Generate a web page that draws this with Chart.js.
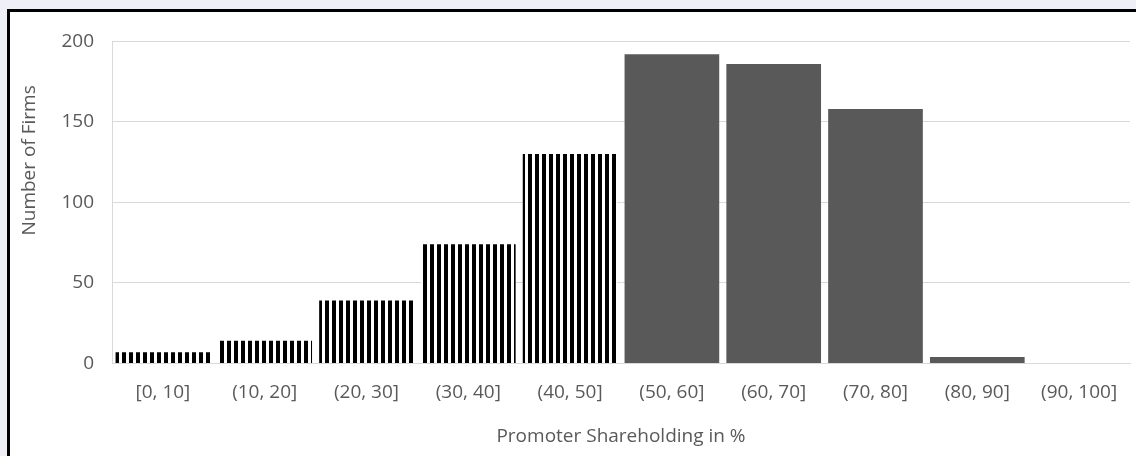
<!DOCTYPE html>
<html>
<head>
<meta charset="utf-8">
<script src="https://cdn.jsdelivr.net/npm/chart.js@4/dist/chart.umd.min.js"></script>
<style>
  html, body { margin: 0; padding: 0; background: #efeff8; overflow: hidden; }
  #card {
    position: absolute; left: 7px; top: 9px; width: 1140px; height: 460px;
    border-left: 3px solid #000; border-top: 3px solid #000; background: #fff;
  }
  #chart { position: absolute; left: 0; top: 0; }
</style>
</head>
<body>
<div id="card"><canvas id="chart" width="1126" height="444"></canvas></div>
<script>
const categories = ['[0, 10]', '(10, 20]', '(20, 30]', '(30, 40]', '(40, 50]',
  '(50, 60]', '(60, 70]', '(70, 80]', '(80, 90]', '(90, 100]'];
const firms = [7, 14, 39, 74, 130, 192, 186, 158, 4, 0];
const striped = [true, true, true, true, true, false, false, false, false, false];
const yTicks = [0, 50, 100, 150, 200];

// vertical stripe fill for the lower groups
const tile = document.createElement('canvas');
tile.width = 7; tile.height = 2;
const tctx = tile.getContext('2d');
tctx.fillStyle = '#fff';
tctx.fillRect(0, 0, 7, 2);
tctx.fillStyle = '#000';
tctx.fillRect(0, 0, 4, 2);
const stripes = tctx.createPattern(tile, 'repeat');

const ctx = document.getElementById('chart').getContext('2d');
const textColor = '#595959';
const font = { family: "'Open Sans', sans-serif", size: 19 };

// y title sits a bit above the middle of the plot, like the original
const yTitle = {
  id: 'yTitle',
  afterDraw(chart) {
    const c = chart.ctx;
    const area = chart.chartArea;
    c.save();
    c.translate(20, (area.top + area.bottom) / 2 - 42);
    c.rotate(-Math.PI / 2);
    c.fillStyle = textColor;
    c.font = `${font.size}px ${font.family}`;
    c.textAlign = 'center';
    c.textBaseline = 'middle';
    c.fillText('Number of Firms', 0, 0);
    c.restore();
  },
};

new Chart(ctx, {
  type: 'bar',
  data: {
    labels: categories,
    datasets: [{
      label: 'Number of Firms',
      data: firms,
      backgroundColor: striped.map(s => s ? stripes : '#595959'),
      borderWidth: 0,
      categoryPercentage: 1,
      barPercentage: 0.93,
    }],
  },
  options: {
    responsive: false,
    animation: false,
    layout: { padding: { top: 29, right: 6, left: 0, bottom: 0 } },
    plugins: { legend: { display: false }, tooltip: { enabled: false } },
    scales: {
      x: {
        grid: { display: false, drawTicks: false },
        border: { color: '#d9d9d9', width: 1 },
        ticks: { color: textColor, font: font, padding: 18 },
        title: {
          display: true, text: 'Promoter Shareholding in %',
          color: textColor, font: font, padding: { top: 3, bottom: 8 },
        },
      },
      y: {
        min: 0, max: 200,
        afterBuildTicks: scale => { scale.ticks = yTicks.map(v => ({ value: v })); },
        afterFit: scale => { scale.width = 102; },
        grid: { color: '#d9d9d9', drawTicks: false },
        border: { color: '#d9d9d9', width: 1 },
        ticks: { color: textColor, font: font, padding: 18 },
        title: { display: false },
      },
    },
  },
  plugins: [yTitle],
});
</script>
</body>
</html>
